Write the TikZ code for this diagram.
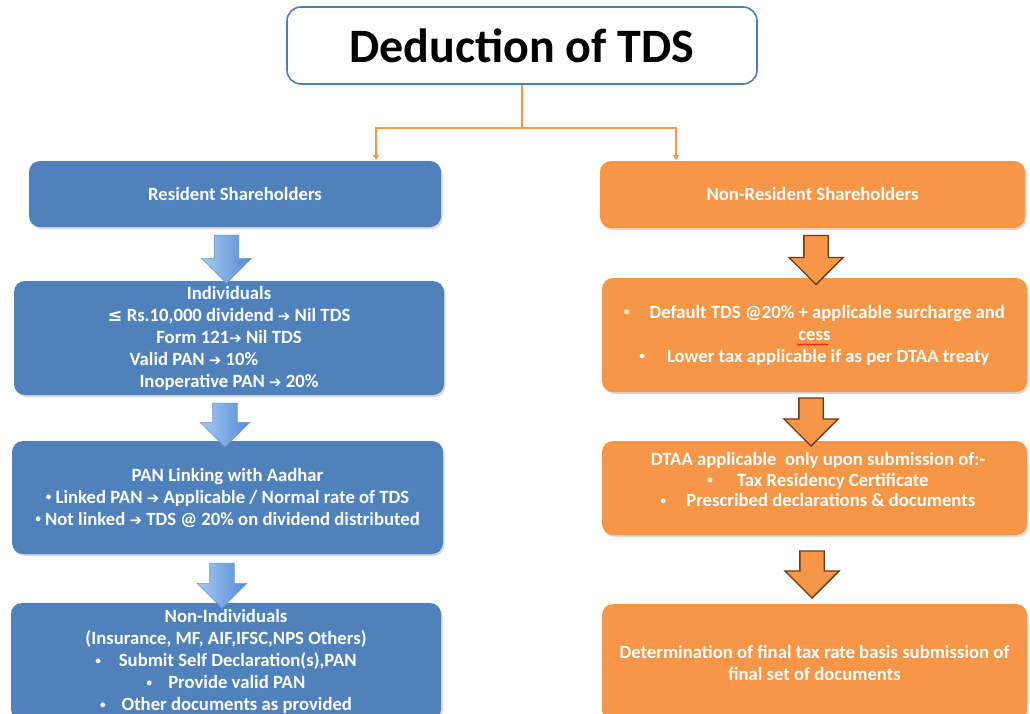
\documentclass[tikz,border=0pt]{standalone}
\usepackage{fontspec}
\usepackage{graphicx}
\setmainfont{Carlito}
\newfontfamily\sym[Scale=0.95]{DejaVu Sans}
\newfontfamily\arrfont[Scale=0.8]{DejaVu Sans}
\usetikzlibrary{shapes.arrows,shadows,arrows.meta,decorations.pathmorphing}
\definecolor{bluebox}{HTML}{4F81BD}
\definecolor{orangebox}{HTML}{F79646}
\definecolor{titleblue}{HTML}{4A7EBB}
\definecolor{arrbrown}{HTML}{6B3A12}
\definecolor{arrlight}{HTML}{A9CBF2}
\definecolor{arrdark}{HTML}{5289D4}
\definecolor{arredge}{HTML}{6F9AD6}
\newcommand{\ra}{{\arrfont\bfseries ➔}}
\newcommand{\myle}{{\sym\bfseries ≤}}
\newcommand{\bul}{\raisebox{0.25ex}{\scalebox{0.6}{•}}}
\tikzset{
  box/.style={rounded corners=11pt, text=white, align=center, inner sep=0pt,
    font=\bfseries\fontsize{18.7}{22}\selectfont,
    drop shadow={shadow xshift=1.5pt, shadow yshift=-2pt, opacity=0.3}},
  bluebx/.style={box, fill=bluebox},
  orangebx/.style={box, fill=orangebox},
  conn/.style={draw=orangebox, line width=1.2pt},
  barrow/.style={single arrow, rotate=-90, inner sep=0pt, single arrow head indent=0pt,
    text height=12pt, text depth=12pt, single arrow head extend=12.5pt, minimum width=49pt,
    left color=arrlight, right color=arrdark, draw=arredge, line width=0.6pt},
  oarrow/.style={single arrow, rotate=-90, inner sep=0pt, single arrow head indent=0pt,
    text height=11.5pt, text depth=11.5pt, single arrow head extend=15pt, minimum width=53pt,
    fill=orangebox, draw=arrbrown, line width=1.3pt},
}
\begin{document}
\begin{tikzpicture}[x=1pt,y=-1pt]
\clip (0,0) rectangle (1030,713);
\fill[white] (0,0) rectangle (1030,713);

% title
\node[draw=titleblue, line width=1.6pt, fill=white, rounded corners=14pt,
      minimum width=470pt, minimum height=77pt, inner sep=0pt,
      font=\bfseries\fontsize{48}{52}\selectfont] (title) at (522,45.5) {Deduction of TDS};

% left column
\node[bluebx, minimum width=412pt, minimum height=66pt] (res) at (235,194) {Resident Shareholders};
\node[bluebx, minimum width=430pt, minimum height=114pt] (ind) at (229,338)
 {Individuals\\
  \myle{} Rs.10,000 dividend \ra{} Nil TDS\\
  Form 121\ra{} Nil TDS\\
  Valid PAN \ra{} 10\%\rule{70pt}{0pt}\\
  Inoperative PAN \ra{} 20\%};
\node[bluebx, minimum width=431pt, minimum height=113pt] (pan) at (227.5,497.5)
 {PAN Linking with Aadhar\\
  \bul{} Linked PAN \ra{} Applicable / Normal rate of TDS\\
  \bul{} Not linked \ra{} TDS @ 20\% on dividend distributed};
\node[bluebx, minimum width=430pt, minimum height=117pt] (nonind) at (226,661.5)
 {Non-Individuals\\
  (Insurance, MF, AIF,IFSC,NPS Others)\\
  \bul\hspace{18pt}Submit Self Declaration(s),PAN\\
  \bul\hspace{16pt}Provide valid PAN\\
  \bul\hspace{16pt}Other documents as provided};

% right column
\node[orangebx, minimum width=425pt, minimum height=67pt] (nres) at (812.5,194.5) {Non-Resident Shareholders};
\node[orangebx, minimum width=425pt, minimum height=114pt] (d1) at (814.5,335)
 {\bul\hspace{20pt}Default TDS @20\% + applicable surcharge and\\
  cess\\
  \bul\hspace{22pt}Lower tax applicable if as per DTAA treaty};
\node[orangebx, minimum width=425pt, minimum height=94pt] (d2) at (814.5,488) {};
\node[text=white, align=center, inner sep=0pt, font=\bfseries\fontsize{18.7}{20.5}\selectfont] (d2t) at (818,479.5)
 {DTAA applicable\ \ only upon submission of:-\\
  \bul\hspace{24pt}Tax Residency Certificate\\
  \bul\hspace{20pt}Prescribed declarations \& documents};
\node[orangebx, minimum width=425pt, minimum height=117pt] (d3) at (814.5,662.5)
 {Determination of final tax rate basis submission of\\
  final set of documents};

% spell-check squiggle under "cess"
\draw[red!85!black, line width=0.6pt, decorate, decoration={snake, amplitude=0.8pt, segment length=3pt}] (797,344.5) -- (828,344.5);

% connectors from title
\coordinate (j) at (title.south |- 0,128);
\coordinate (rin) at (376,160);
\coordinate (nin) at (676,160);
\draw[conn] (title.south) -- (j);
\draw[conn, -{Triangle[width=6pt,length=5pt]}] (j) -| (rin);
\draw[conn, -{Triangle[width=6pt,length=5pt]}] (j) -| (nin);

% block arrows left
\node[barrow, minimum height=48pt] (a1) at (226.5,253) {};
\node[barrow, minimum height=44pt] (a2) at (225,419) {};
\node[barrow, minimum height=45pt] (a3) at (222,579.5) {};

% block arrows right
\node[oarrow, minimum height=49pt] (o1) at (816,254) {};
\node[oarrow, minimum height=48pt] (o2) at (811,416) {};
\node[oarrow, minimum height=47pt] (o3) at (812,568.5) {};
\end{tikzpicture}
\end{document}
